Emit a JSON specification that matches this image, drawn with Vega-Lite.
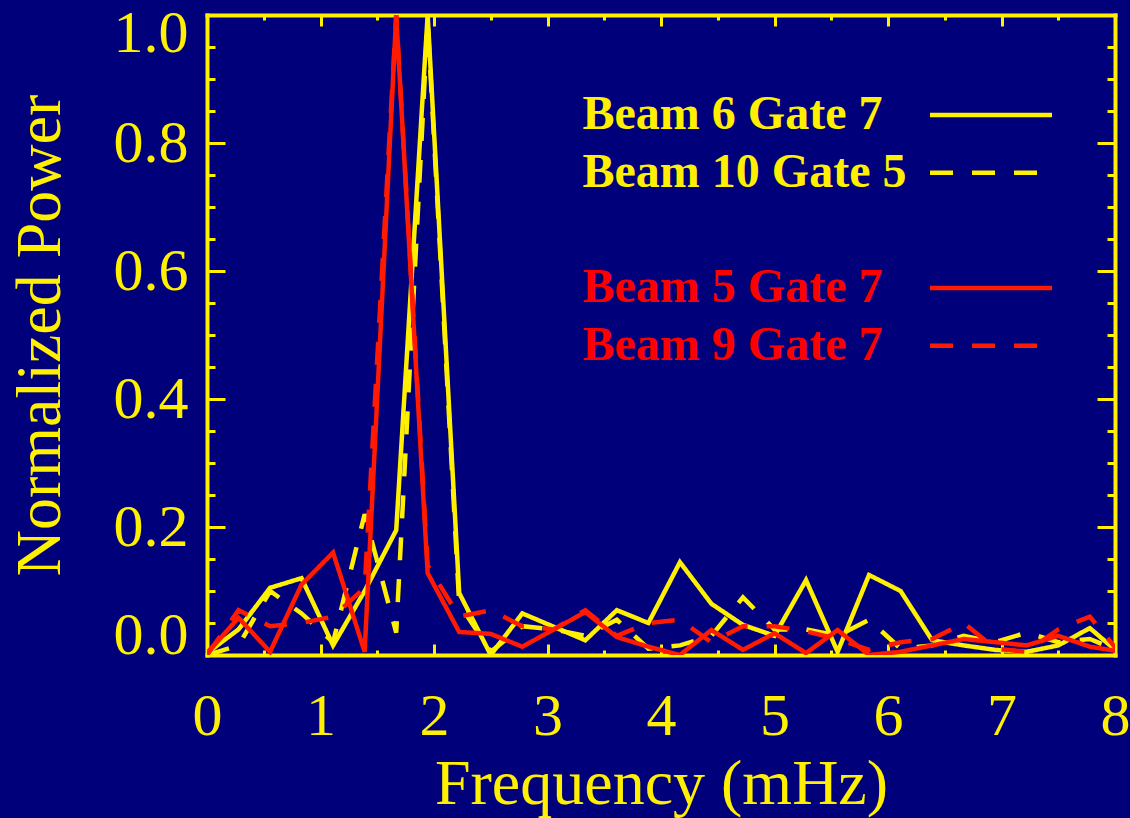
{
  "$schema": "https://vega.github.io/schema/vega-lite/v6.json",
  "width": 908,
  "height": 640,
  "autosize": {"type": "none"},
  "padding": {"left": 207, "top": 15, "right": 15, "bottom": 163},
  "background": "#00007A",
  "config": {
    "view": {"stroke": null},
    "axis": {
      "domainColor": "#FFF000", "tickColor": "#FFF000", "labelColor": "#FFF000", "titleColor": "#FFF000",
      "labelFont": "Liberation Serif", "titleFont": "Liberation Serif",
      "labelFontSize": 60, "titleFontSize": 64, "titleFontWeight": "normal",
      "grid": false, "domainWidth": 4, "tickWidth": 3, "domainCap": "square"
    }
  },
  "data": {"values": [
    {"series":"Beam 6 Gate 7","freq":0,"power":0.003},{"series":"Beam 6 Gate 7","freq":0.278,"power":0.04},{"series":"Beam 6 Gate 7","freq":0.556,"power":0.105},{"series":"Beam 6 Gate 7","freq":0.833,"power":0.12},{"series":"Beam 6 Gate 7","freq":1.111,"power":0.015},{"series":"Beam 6 Gate 7","freq":1.389,"power":0.1},{"series":"Beam 6 Gate 7","freq":1.667,"power":0.195},{"series":"Beam 6 Gate 7","freq":1.944,"power":1.0},{"series":"Beam 6 Gate 7","freq":2.222,"power":0.097},{"series":"Beam 6 Gate 7","freq":2.5,"power":0.0},{"series":"Beam 6 Gate 7","freq":2.778,"power":0.065},{"series":"Beam 6 Gate 7","freq":3.056,"power":0.044},{"series":"Beam 6 Gate 7","freq":3.333,"power":0.023},{"series":"Beam 6 Gate 7","freq":3.611,"power":0.07},{"series":"Beam 6 Gate 7","freq":3.889,"power":0.05},{"series":"Beam 6 Gate 7","freq":4.167,"power":0.145},{"series":"Beam 6 Gate 7","freq":4.444,"power":0.08},{"series":"Beam 6 Gate 7","freq":4.722,"power":0.047},{"series":"Beam 6 Gate 7","freq":5.0,"power":0.03},{"series":"Beam 6 Gate 7","freq":5.278,"power":0.117},{"series":"Beam 6 Gate 7","freq":5.556,"power":0.005},{"series":"Beam 6 Gate 7","freq":5.833,"power":0.125},{"series":"Beam 6 Gate 7","freq":6.111,"power":0.1},{"series":"Beam 6 Gate 7","freq":6.389,"power":0.023},{"series":"Beam 6 Gate 7","freq":6.667,"power":0.015},{"series":"Beam 6 Gate 7","freq":6.944,"power":0.008},{"series":"Beam 6 Gate 7","freq":7.222,"power":0.005},{"series":"Beam 6 Gate 7","freq":7.5,"power":0.015},{"series":"Beam 6 Gate 7","freq":7.778,"power":0.042},{"series":"Beam 6 Gate 7","freq":8.056,"power":0.0},
    {"series":"Beam 10 Gate 5","freq":0,"power":0.0},{"series":"Beam 10 Gate 5","freq":0.278,"power":0.015},{"series":"Beam 10 Gate 5","freq":0.556,"power":0.1},{"series":"Beam 10 Gate 5","freq":0.833,"power":0.065},{"series":"Beam 10 Gate 5","freq":1.111,"power":0.02},{"series":"Beam 10 Gate 5","freq":1.389,"power":0.22},{"series":"Beam 10 Gate 5","freq":1.667,"power":0.035},{"series":"Beam 10 Gate 5","freq":1.944,"power":0.99},{"series":"Beam 10 Gate 5","freq":2.222,"power":0.08},{"series":"Beam 10 Gate 5","freq":2.5,"power":0.005},{"series":"Beam 10 Gate 5","freq":2.778,"power":0.045},{"series":"Beam 10 Gate 5","freq":3.056,"power":0.04},{"series":"Beam 10 Gate 5","freq":3.333,"power":0.03},{"series":"Beam 10 Gate 5","freq":3.611,"power":0.055},{"series":"Beam 10 Gate 5","freq":3.889,"power":0.01},{"series":"Beam 10 Gate 5","freq":4.167,"power":0.015},{"series":"Beam 10 Gate 5","freq":4.444,"power":0.03},{"series":"Beam 10 Gate 5","freq":4.722,"power":0.09},{"series":"Beam 10 Gate 5","freq":5.0,"power":0.04},{"series":"Beam 10 Gate 5","freq":5.278,"power":0.04},{"series":"Beam 10 Gate 5","freq":5.556,"power":0.03},{"series":"Beam 10 Gate 5","freq":5.833,"power":0.055},{"series":"Beam 10 Gate 5","freq":6.111,"power":0.01},{"series":"Beam 10 Gate 5","freq":6.389,"power":0.015},{"series":"Beam 10 Gate 5","freq":6.667,"power":0.03},{"series":"Beam 10 Gate 5","freq":6.944,"power":0.02},{"series":"Beam 10 Gate 5","freq":7.222,"power":0.035},{"series":"Beam 10 Gate 5","freq":7.5,"power":0.02},{"series":"Beam 10 Gate 5","freq":7.778,"power":0.025},{"series":"Beam 10 Gate 5","freq":8.056,"power":0.005},
    {"series":"Beam 5 Gate 7","freq":0,"power":0.003},{"series":"Beam 5 Gate 7","freq":0.278,"power":0.058},{"series":"Beam 5 Gate 7","freq":0.556,"power":0.005},{"series":"Beam 5 Gate 7","freq":0.833,"power":0.11},{"series":"Beam 5 Gate 7","freq":1.111,"power":0.16},{"series":"Beam 5 Gate 7","freq":1.389,"power":0.005},{"series":"Beam 5 Gate 7","freq":1.667,"power":1.0},{"series":"Beam 5 Gate 7","freq":1.944,"power":0.128},{"series":"Beam 5 Gate 7","freq":2.222,"power":0.036},{"series":"Beam 5 Gate 7","freq":2.5,"power":0.033},{"series":"Beam 5 Gate 7","freq":2.778,"power":0.013},{"series":"Beam 5 Gate 7","freq":3.056,"power":0.04},{"series":"Beam 5 Gate 7","freq":3.333,"power":0.067},{"series":"Beam 5 Gate 7","freq":3.611,"power":0.028},{"series":"Beam 5 Gate 7","freq":3.889,"power":0.013},{"series":"Beam 5 Gate 7","freq":4.167,"power":0.0},{"series":"Beam 5 Gate 7","freq":4.444,"power":0.039},{"series":"Beam 5 Gate 7","freq":4.722,"power":0.008},{"series":"Beam 5 Gate 7","freq":5.0,"power":0.034},{"series":"Beam 5 Gate 7","freq":5.278,"power":0.003},{"series":"Beam 5 Gate 7","freq":5.556,"power":0.039},{"series":"Beam 5 Gate 7","freq":5.833,"power":0.0},{"series":"Beam 5 Gate 7","freq":6.111,"power":0.005},{"series":"Beam 5 Gate 7","freq":6.389,"power":0.015},{"series":"Beam 5 Gate 7","freq":6.667,"power":0.025},{"series":"Beam 5 Gate 7","freq":6.944,"power":0.02},{"series":"Beam 5 Gate 7","freq":7.222,"power":0.015},{"series":"Beam 5 Gate 7","freq":7.5,"power":0.03},{"series":"Beam 5 Gate 7","freq":7.778,"power":0.013},{"series":"Beam 5 Gate 7","freq":8.056,"power":0.005},
    {"series":"Beam 9 Gate 7","freq":0,"power":0.0},{"series":"Beam 9 Gate 7","freq":0.278,"power":0.07},{"series":"Beam 9 Gate 7","freq":0.556,"power":0.045},{"series":"Beam 9 Gate 7","freq":0.833,"power":0.05},{"series":"Beam 9 Gate 7","freq":1.111,"power":0.06},{"series":"Beam 9 Gate 7","freq":1.389,"power":0.105},{"series":"Beam 9 Gate 7","freq":1.667,"power":1.0},{"series":"Beam 9 Gate 7","freq":1.944,"power":0.14},{"series":"Beam 9 Gate 7","freq":2.222,"power":0.06},{"series":"Beam 9 Gate 7","freq":2.5,"power":0.07},{"series":"Beam 9 Gate 7","freq":2.778,"power":0.045},{"series":"Beam 9 Gate 7","freq":3.056,"power":0.04},{"series":"Beam 9 Gate 7","freq":3.333,"power":0.07},{"series":"Beam 9 Gate 7","freq":3.611,"power":0.03},{"series":"Beam 9 Gate 7","freq":3.889,"power":0.05},{"series":"Beam 9 Gate 7","freq":4.167,"power":0.055},{"series":"Beam 9 Gate 7","freq":4.444,"power":0.02},{"series":"Beam 9 Gate 7","freq":4.722,"power":0.045},{"series":"Beam 9 Gate 7","freq":5.0,"power":0.045},{"series":"Beam 9 Gate 7","freq":5.278,"power":0.037},{"series":"Beam 9 Gate 7","freq":5.556,"power":0.025},{"series":"Beam 9 Gate 7","freq":5.833,"power":0.008},{"series":"Beam 9 Gate 7","freq":6.111,"power":0.02},{"series":"Beam 9 Gate 7","freq":6.389,"power":0.025},{"series":"Beam 9 Gate 7","freq":6.667,"power":0.05},{"series":"Beam 9 Gate 7","freq":6.944,"power":0.01},{"series":"Beam 9 Gate 7","freq":7.222,"power":0.005},{"series":"Beam 9 Gate 7","freq":7.5,"power":0.04},{"series":"Beam 9 Gate 7","freq":7.778,"power":0.06},{"series":"Beam 9 Gate 7","freq":8.056,"power":0.0}
  ]},
  "resolve": {"axis": {"x": "independent", "y": "independent"}},
  "layer": [
    {
      "mark": {"type": "line", "strokeWidth": 4.5, "clip": true},
      "encoding": {
        "x": {"field": "freq", "type": "quantitative", "scale": {"domain": [0, 8], "nice": false, "zero": false},
          "axis": {"orient": "bottom", "title": "Frequency (mHz)", "values": [0,1,2,3,4,5,6,7,8], "format": "d",
            "ticks": false, "tickSize": 0, "labelPadding": 32, "labelFlush": false, "titlePadding": 6}},
        "y": {"field": "power", "type": "quantitative", "scale": {"domain": [0, 1], "nice": false},
          "axis": {"orient": "left", "title": "Normalized Power", "values": [0,0.2,0.4,0.6,0.8,1.0], "format": ".1f",
            "ticks": false, "tickSize": 0, "labelPadding": 19, "labelFlush": true, "labelFlushOffset": 11, "titlePadding": 41}},
        "color": {"field": "series", "type": "nominal",
          "scale": {"domain": ["Beam 6 Gate 7", "Beam 10 Gate 5", " ", "Beam 5 Gate 7", "Beam 9 Gate 7"],
                    "range": ["#FFF000", "#FFF000", "transparent", "#FF1A00", "#FF1A00"]},
          "legend": {"orient": "none", "legendX": 378, "legendY": 76, "title": null, "padding": 0,
            "symbolType": "M -20.33 0 H 20.33", "symbolSize": 36, "symbolStrokeWidth": 4.5,
            "labelFont": "Liberation Serif", "labelFontSize": 48, "labelFontWeight": "bold", "labelLimit": 800,
            "rowPadding": 9.7, "labelOffset": -432.5, "symbolOffset": 382,
            "labelAlign": "left", "labelBaseline": "middle",
            "encode": {"labels": {"update": {"fill": {"signal": "datum.value == 'Beam 5 Gate 7' || datum.value == 'Beam 9 Gate 7' ? '#FF0000' : '#FFF000'"}}}}}},
        "strokeDash": {"field": "series", "type": "nominal",
          "scale": {"domain": ["Beam 6 Gate 7", "Beam 10 Gate 5", " ", "Beam 5 Gate 7", "Beam 9 Gate 7"],
                    "range": [[1, 0], [23, 19], [1, 0], [1, 0], [23, 19]]}}
      }
    },
    {
      "mark": {"type": "point", "opacity": 0},
      "encoding": {
        "x": {"field": "freq", "type": "quantitative", "axis": {"orient": "bottom", "title": null, "labels": false, "domain": false, "values": [0,1,2,3,4,5,6,7,8], "tickSize": -11}},
        "y": {"field": "power", "type": "quantitative", "axis": {"orient": "left", "title": null, "labels": false, "domain": false, "values": [0,0.2,0.4,0.6,0.8,1.0], "tickSize": -18}}
      }
    },
    {
      "mark": {"type": "point", "opacity": 0},
      "encoding": {
        "x": {"field": "freq", "type": "quantitative", "axis": {"orient": "bottom", "title": null, "labels": false, "domain": false, "values": [0.5,1.5,2.5,3.5,4.5,5.5,6.5,7.5], "tickSize": -5}},
        "y": {"field": "power", "type": "quantitative", "axis": {"orient": "left", "title": null, "labels": false, "domain": false, "values": [0.05,0.1,0.15,0.25,0.3,0.35,0.45,0.5,0.55,0.65,0.7,0.75,0.85,0.9,0.95], "tickSize": -8}}
      }
    },
    {
      "mark": {"type": "point", "opacity": 0},
      "encoding": {
        "x": {"field": "freq", "type": "quantitative", "axis": {"orient": "top", "title": null, "labels": false, "domain": true, "values": [0,1,2,3,4,5,6,7,8], "tickSize": -11}},
        "y": {"field": "power", "type": "quantitative", "axis": {"orient": "right", "title": null, "labels": false, "domain": true, "values": [0,0.2,0.4,0.6,0.8,1.0], "tickSize": -18}}
      }
    },
    {
      "mark": {"type": "point", "opacity": 0},
      "encoding": {
        "x": {"field": "freq", "type": "quantitative", "axis": {"orient": "top", "title": null, "labels": false, "domain": false, "values": [0.5,1.5,2.5,3.5,4.5,5.5,6.5,7.5], "tickSize": -5}},
        "y": {"field": "power", "type": "quantitative", "axis": {"orient": "right", "title": null, "labels": false, "domain": false, "values": [0.05,0.1,0.15,0.25,0.3,0.35,0.45,0.5,0.55,0.65,0.7,0.75,0.85,0.9,0.95], "tickSize": -8}}
      }
    }
  ]
}
